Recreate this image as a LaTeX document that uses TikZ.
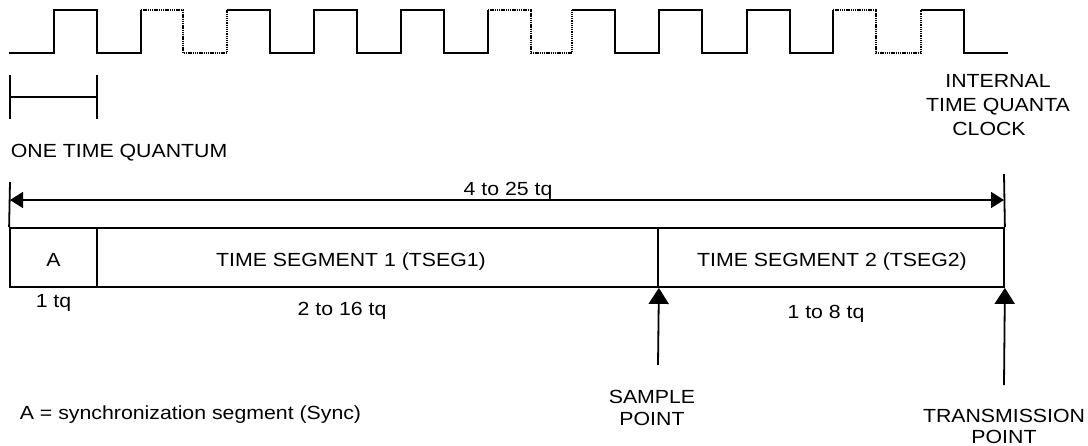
\documentclass[tikz,border=0pt]{standalone}
\usepackage{fontspec}
\setmainfont{Liberation Sans}[FakeStretch=1.12]
\usetikzlibrary{arrows.meta}
\begin{document}
\begin{tikzpicture}[x=1pt,y=-1pt,line width=1.8pt,
  lbl/.style={inner sep=0pt,font=\fontsize{19}{22}\selectfont},
  dots/.style={dash pattern=on 1.3pt off 0.9pt},
  seg/.style={draw,inner sep=0pt,minimum height=59pt},
  uptip/.style={-{Triangle[length=16pt,width=20pt]}},
  span/.style={{Triangle[length=13pt,width=16pt]}-{Triangle[length=13pt,width=16pt]}}]
\useasboundingbox (0,0) rectangle (1088,445);
% internal time quanta clock
\draw (9,53) -| (54,10) -| (97,53) -| (141,10);
\draw[dots] (141,10) -| (183,53) -| (227,10);
\draw (227,10) -| (270,53) -| (314,10) -| (357,53) -| (401,10) -| (444,53) -| (488,10);
\draw[dots] (488,10) -| (531,53) -| (572,10);
\draw (572,10) -| (615,53) -| (659,10) -| (702,53) -| (747,10) -| (790,53) -| (833,10);
\draw[dots] (833,10) -| (876,53) -| (921,10);
\draw (921,10) -| (964,53) -- (1008,53);
\node[lbl,anchor=base] (int1) at (998,87) {INTERNAL};
\node[lbl,anchor=base] (int2) at (998,111) {TIME QUANTA};
\node[lbl,anchor=base] (int3) at (989,135) {CLOCK};
% one time quantum
\draw (10,75) -- (10,119);
\draw (97,75) -- (97,119);
\draw (10,97) -- (97,97);
\node[lbl,anchor=base west] (otq) at (10,157) {ONE TIME QUANTUM};
% bit time segments
\node[seg,minimum width=87pt] (sync) at (53.5,257.5) {};
\node[seg,minimum width=561pt] (tseg1) at (377.5,257.5) {};
\node[seg,minimum width=346pt] (tseg2) at (831,257.5) {};
\node[lbl,anchor=base] (la) at (53.5,266) {A};
\node[lbl,anchor=base] (l1) at (351,266.5) {TIME SEGMENT 1 (TSEG1)};
\node[lbl,anchor=base] (l2) at (832,266.5) {TIME SEGMENT 2 (TSEG2)};
\coordinate (ltop) at (10,182);
\coordinate (rtop) at (1004,174);
\draw (sync.north west) -- (ltop);
\draw (tseg2.north east) -- (rtop);
\coordinate (al) at (10,200);
\coordinate (ar) at (1004,200);
\draw[span] (al) -- (ar);
\node[lbl,anchor=base] (tot) at (508,195) {4 to 25 tq};
\node[lbl,anchor=base] (d0) at (53.5,307) {1 tq};
\node[lbl,anchor=base] (d1) at (342,315) {2 to 16 tq};
\node[lbl,anchor=base] (d2) at (826,318) {1 to 8 tq};
% sample and transmission points
\coordinate (sp) at (658,365);
\coordinate (tp) at (1004,385);
\draw[uptip] (sp) -- (tseg1.south east);
\draw[uptip] (tp) -- (tseg2.south east);
\node[lbl,anchor=base] (sp1) at (652,403) {SAMPLE};
\node[lbl,anchor=base] (sp2) at (652,425) {POINT};
\node[lbl,anchor=base] (tp1) at (1004,422) {TRANSMISSION};
\node[lbl,anchor=base] (tp2) at (1004,443) {POINT};
\node[lbl,anchor=base west] (note) at (19,419) {A = synchronization segment (Sync)};
\end{tikzpicture}
\end{document}
